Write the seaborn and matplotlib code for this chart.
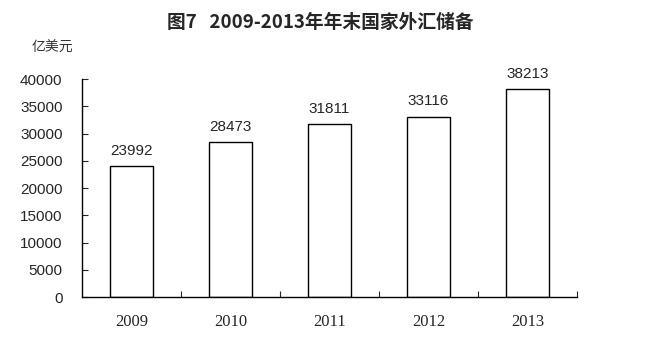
import matplotlib
matplotlib.use("Agg")
import matplotlib.pyplot as plt
import seaborn as sns
import pandas as pd

years = ["2009", "2010", "2011", "2012", "2013"]
reserves = [23992, 28473, 31811, 33116, 38213]
y_ticks = [0, 5000, 10000, 15000, 20000, 25000, 30000, 35000, 40000]

sns.set_theme(style="white")
plt.rcParams['font.family'] = ['Liberation Sans', 'Noto Sans CJK SC', 'DejaVu Sans']

df = pd.DataFrame({"year": years, "value": reserves})

fig = plt.figure(figsize=(6.5, 3.5), dpi=100)
ax = fig.add_axes([0.126, 0.151, 0.762, 0.623])
sns.barplot(data=df, x="year", y="value", ax=ax, color="white",
            edgecolor="black", linewidth=1.0, width=0.44, saturation=1)

ax.set_ylim(0, 40000)
ax.set_xlim(-0.5, 4.5)
ax.set_yticks(y_ticks)
ax.set_yticklabels([str(t) for t in y_ticks], fontsize=11)
ax.set_xticks([i - 0.5 for i in range(1, 6)], minor=False)
ax.set_xticklabels([])
for i, y in enumerate(years):
    ax.text(i, -0.075, y, transform=ax.get_xaxis_transform(), ha="center", va="top",
            fontsize=12, family="Liberation Serif")
ax.set_xlabel("")
ax.set_ylabel("")
for s in ["top", "right"]:
    ax.spines[s].set_visible(False)
for s in ["left", "bottom"]:
    ax.spines[s].set_color("black")
    ax.spines[s].set_linewidth(1.0)
ax.tick_params(axis="y", direction="in", length=4, width=0.8, left=True, pad=14)
ax.tick_params(axis="x", direction="in", length=4, width=0.8, bottom=True)

for i, v in enumerate(reserves):
    ax.text(i, v + 1500, str(v), ha="center", va="bottom", fontsize=11)

fig.text(0.493, 0.935, "图7   2009-2013年年末国家外汇储备", ha="center", va="center",
         fontsize=13.5, fontweight="bold", family=["Noto Sans CJK SC", "DejaVu Sans"])
fig.text(0.08, 0.863, "亿美元", ha="center", va="center", fontsize=10,
         family=["Noto Sans CJK SC", "DejaVu Sans"], color="#333333")

fig.savefig("out.png", dpi=100, facecolor="white")
